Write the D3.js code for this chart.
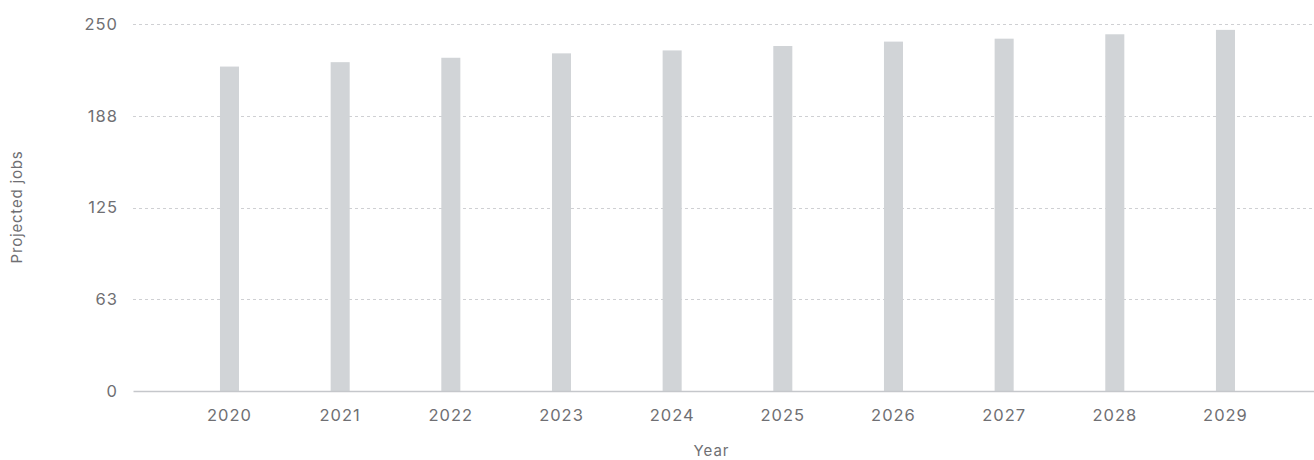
<!DOCTYPE html>
<html>
<head>
<meta charset="utf-8">
<script src="https://cdn.jsdelivr.net/npm/d3@7"></script>
<style>
  body { margin: 0; background: #fff; }
  text { font-family: Inter, "Open Sans", sans-serif; fill: #6f6f73; }
</style>
</head>
<body>
<script>
var years = ["2020", "2021", "2022", "2023", "2024", "2025", "2026", "2027", "2028", "2029"];
var jobs = [221, 224, 227, 230, 232, 235, 238, 240, 243, 246];
var yTicks = [0, 62.5, 125, 187.5, 250];

var width = 1314, height = 460;
var mLeft = 133, mRight = 1314, mTop = 24, mBottom = 391;

var svg = d3.select("body").append("svg").attr("width", width).attr("height", height);

var x = d3.scaleBand().domain(years).range([mLeft, mRight])
          .paddingInner(0.828).paddingOuter(0.75).align(0.524);
var y = d3.scaleLinear().domain([0, 250]).range([mBottom, mTop]);

// gridlines
svg.selectAll("line.grid")
   .data(yTicks.slice(1))
   .enter().append("line")
   .attr("class", "grid")
   .attr("x1", mLeft).attr("x2", mRight)
   .attr("y1", function(d){ return Math.round(y(d)) + 0.5; })
   .attr("y2", function(d){ return Math.round(y(d)) + 0.5; })
   .attr("stroke", "#cfd0d3")
   .attr("stroke-dasharray", "3,3");

// y labels
var yAxis = svg.append("g").attr("transform", "translate(" + mLeft + ",0)")
   .call(d3.axisLeft(y).tickValues(yTicks).tickSize(0).tickPadding(15)
           .tickFormat(function(d){ return Math.round(d); }));
yAxis.select(".domain").remove();
yAxis.selectAll("text").attr("font-size", 16.5).attr("letter-spacing", "1px")
     .attr("font-family", "Inter, sans-serif").attr("fill", "#737378");

// bars
svg.selectAll("rect.bar")
   .data(jobs)
   .enter().append("rect")
   .attr("class", "bar")
   .attr("fill", "#d1d4d7")
   .attr("x", function(d, i){ return x(years[i]); })
   .attr("width", x.bandwidth())
   .attr("y", function(d){ return y(d); })
   .attr("height", function(d){ return mBottom - y(d); });

// x axis
var xAxis = svg.append("g").attr("transform", "translate(0," + mBottom + ")")
   .call(d3.axisBottom(x).tickSize(0).tickPadding(18));
xAxis.select(".domain").attr("stroke", "#c5c7cb").attr("stroke-width", 1.5);
xAxis.selectAll("text").attr("font-size", 16.5).attr("letter-spacing", "1px")
     .attr("font-family", "Inter, sans-serif").attr("fill", "#737378");

// axis titles
svg.append("text")
   .attr("x", (mLeft + 1290) / 2).attr("y", 456)
   .attr("text-anchor", "middle").attr("font-size", 15).attr("letter-spacing", "1px")
   .text("Year");

svg.append("text")
   .attr("transform", "translate(22,207) rotate(-90)")
   .attr("text-anchor", "middle").attr("font-size", 15).attr("letter-spacing", "0.8px")
   .text("Projected jobs");
</script>
</body>
</html>
